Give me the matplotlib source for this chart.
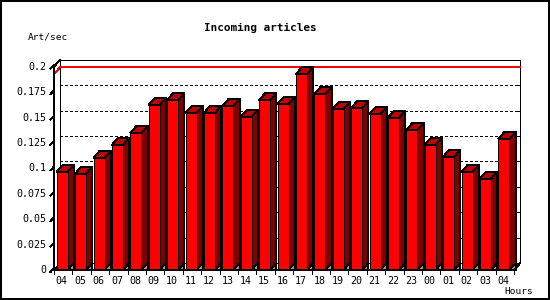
import matplotlib
matplotlib.use("Agg")
import matplotlib.pyplot as plt
from matplotlib.patches import Polygon, Rectangle

plt.rcParams['lines.scale_dashes'] = False
plt.rcParams['lines.antialiased'] = False
plt.rcParams['patch.antialiased'] = False

# ---- data ----
hours = ["04", "05", "06", "07", "08", "09", "10", "11", "12", "13", "14", "15", "16",
         "17", "18", "19", "20", "21", "22", "23", "00", "01", "02", "03", "04"]
values = [0.0967, 0.0948, 0.1105, 0.1232, 0.1350, 0.1624, 0.1673, 0.1546, 0.1546,
          0.1614, 0.1507, 0.1673, 0.1634, 0.1928, 0.1732, 0.1585, 0.1595, 0.1536,
          0.1497, 0.1379, 0.1232, 0.1115, 0.0967, 0.0899, 0.1291]
yticks = [0, 0.025, 0.05, 0.075, 0.1, 0.125, 0.15, 0.175, 0.2]
ytick_labels = ["0", "0.025", "0.05", "0.075", "0.1", "0.125", "0.15", "0.175", "0.2"]
title = "Incoming articles"
ylabel = "Art/sec"
xlabel = "Hours"

W, H = 550, 300
fig = plt.figure(figsize=(5.5, 3.0), dpi=100)
fig.patch.set_facecolor("white")

n = len(values)
ymax = 0.2
# front plane axes
ax = fig.add_axes([54 / W, 30 / H, 460 / W, 203.3 / H])
ax.set_xlim(-0.5, n - 0.5)
ax.set_ylim(0, ymax)
ax.axis("off")

PX = n / 460.0          # one pixel in x data units
PY = ymax / 203.3       # one pixel in y data units
DX, DY = 6.3 * PX, 7 * PY
FRONT = "#ff0000"
TOP = "#c00000"
SIDE = "#800000"
lw = 0.6
x0, x1 = -0.5, n - 0.5

# back plane grid (dashed) and right ticks
for v in yticks[1:-1]:
    ax.plot([x0 + DX, x1 + DX], [v + DY, v + DY], color="black", lw=lw,
            dashes=(1.5, 1.5), clip_on=False, zorder=1)
    ax.plot([x1 + DX - 4 * PX, x1 + DX], [v + DY, v + DY], color="black", lw=lw,
            clip_on=False, zorder=1)

# back frame
ax.plot([x0 + DX, x1 + DX, x1 + DX], [ymax + DY, ymax + DY, DY], color="black", lw=lw,
        clip_on=False, zorder=1)
ax.plot([x0 + DX, x0 + DX], [DY, ymax + DY], color="black", lw=lw, clip_on=False, zorder=1)
ax.plot([x0 + DX, x1 + DX], [DY, DY], color="black", lw=lw, clip_on=False, zorder=1)

# max line (red)
vmax = max(values)
ax.plot([x0, x0 + DX, x1 + DX], [vmax, vmax + DY, vmax + DY], color="red", lw=lw,
        clip_on=False, zorder=2)

# bars
xl = [i - 0.5 + 2.7 * PX for i in range(n)]
bw = 11 * PX
for i, v in enumerate(values):
    xr = xl[i] + bw
    ax.add_patch(Polygon([(xr, 0), (xr + DX, DY), (xr + DX, 0)], closed=True,
                         fc="#999999", ec="black", lw=lw, clip_on=False, zorder=3))
    ax.add_patch(Polygon([(xr, 0), (xr + DX, DY), (xr + DX, v + DY), (xr, v)], closed=True,
                         fc=SIDE, ec="black", lw=lw, clip_on=False, zorder=3))
    ax.add_patch(Polygon([(xl[i], v), (xl[i] + DX, v + DY), (xr + DX, v + DY), (xr, v)],
                         closed=True, fc=TOP, ec="black", lw=lw, clip_on=False, zorder=3))
ax.bar(xl, values, width=bw, align="edge", color=FRONT, edgecolor="black", lw=lw,
       clip_on=False, zorder=4)

# front axes
ax.plot([x0 + DX, x0, x0, x1, x1 + DX], [ymax + DY, ymax, 0, 0, DY], color="black",
        lw=lw, clip_on=False, zorder=5)
ax.plot([x0, x0 + DX], [0, DY], color="black", lw=lw, clip_on=False, zorder=2)

# y ticks + labels
for v, lab in zip(yticks, ytick_labels):
    ax.plot([x0 - 3.5 * PX, x0], [v - 2 * PY, v + 2 * PY], color="black", lw=lw,
            clip_on=False, zorder=5)
    ax.text(x0 - 8 * PX, v, lab, ha="right", va="center", fontsize=7.2,
            family="DejaVu Sans Mono", color="black")

# x ticks + labels
for i in range(n + 1):
    ax.plot([i - 0.5, i - 0.5], [0, -4 * PY], color="black", lw=lw, clip_on=False, zorder=5)
for i, lab in enumerate(hours):
    ax.text(i - 0.08, -10.5 * PY, lab, ha="center", va="center", fontsize=7.2,
            family="DejaVu Sans Mono", color="black")

fig.text(260 / W, 1 - 27.5 / H, title, ha="center", va="center", fontsize=7.9,
         family="DejaVu Sans Mono", weight="bold")
fig.text(28.3 / W, 1 - 37.5 / H, ylabel, ha="left", va="center", fontsize=6.8,
         family="DejaVu Sans Mono")
fig.text(533 / W, 1 - 291.5 / H, xlabel, ha="right", va="center", fontsize=6.8,
         family="DejaVu Sans Mono")

fig.add_artist(Rectangle((0, 0), 1, 1, transform=fig.transFigure, fill=False,
                         ec="black", lw=1.6))

fig.savefig("out.png", dpi=100)
